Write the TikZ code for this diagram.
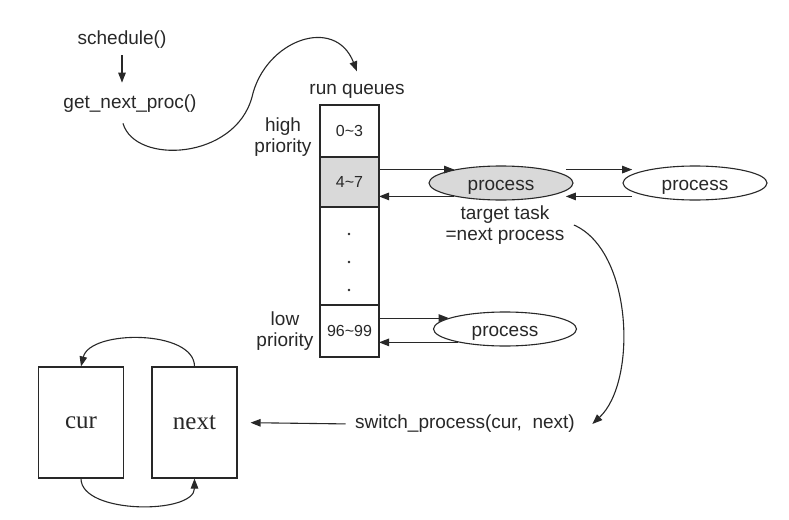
\documentclass[tikz,border=0pt]{standalone}
\usepackage{fontspec}
\setmainfont{Liberation Sans}
\newfontfamily\timesf{Liberation Serif}
\usetikzlibrary{arrows.meta,shapes.geometric,calc}
\definecolor{ink}{RGB}{40,40,40}
\definecolor{qgray}{RGB}{217,217,217}
\begin{document}
\begin{tikzpicture}[x=1pt,y=-1pt,
  every node/.style={text=ink, font=\fontsize{19}{21}\selectfont},
  line/.style={draw=ink, line width=1.1pt},
  arr/.style={line, -{Triangle[length=10pt,width=7.5pt]}},
  cell/.style={draw=ink, line width=1.1pt, minimum width=59pt, inner sep=0pt, outer sep=0pt, anchor=north, font=\fontsize{16}{18}\selectfont},
  proc/.style={ellipse, draw=ink, line width=1.1pt, minimum width=144pt, minimum height=34pt, inner sep=0pt, text height=17pt, text depth=3pt},
  frame/.style={draw=ink, line width=1.1pt, minimum width=85pt, minimum height=111pt, inner sep=0pt, font=\timesf\fontsize{25}{27}\selectfont}]
\useasboundingbox (0,0) rectangle (789,519);
\fill[white] (0,0) rectangle (789,519);

% top calls
\node (sched) at (122,40) {schedule()};
\node (getnext) at (130,104) {get\_next\_proc()};
\draw[arr, shorten <=3pt, shorten >=9pt] (sched.south) -- (sched.south |- getnext.north);

% run queues
\node (rq) at (357,91) {run queues};
\node[cell, minimum height=52pt] (c0) at (349.5,105) {0\textasciitilde3};
\node[cell, minimum height=50pt, fill=qgray] (c1) at (c0.south) {4\textasciitilde7};
\node[cell, minimum height=98pt] (cd) at (c1.south) {};
\node[cell, minimum height=52pt] (c2) at (cd.south) {96\textasciitilde99};
\foreach \yy in {234,262,290} \fill[ink] (349,\yy) circle (1.4);

\node[align=center] (hp) at (283,137) {high\\priority};
\node[align=center] (lp) at (285,331) {low\\priority};

\draw[arr] ([xshift=-7pt,yshift=-7pt]getnext.south) .. controls (135,165) and (235,160) .. (252,97)
  .. controls (265,40) and (335,15) .. ([yshift=9pt]rq.north);

% processes
\node[proc, fill=qgray] (e1) at (501,183) {process};
\node[proc] (e2) at (695,183) {process};
\node[proc, minimum width=143pt] (e3) at (505,329) {process};

\draw[arr] (c1.east |- e1.164) -- (e1.164);
\draw[arr] (e1.196) -- (c1.east |- e1.196);
\draw[arr, shorten <=18pt, shorten >=16pt] (e1.16) -- (e1.16 -| e2.164);
\draw[arr, shorten <=16pt, shorten >=18pt] (e2.196) -- (e2.196 -| e1.16);
\draw[arr] (c2.east |- e3.169) -- (e3.169);
\draw[arr] (e3.196) -- (c2.east |- e3.196);

\node[align=center] (tgt) at (505,225) {target task\\=next process};

% switch
\node (sw) at (465,424) {switch\_process(cur,\ \ next)};
\draw[arr] ([xshift=6pt]tgt.east) .. controls +(59,26) and +(45,-42) .. ([xshift=14pt]sw.east);

\node[frame] (cur) at (81,422.5) {cur};
\node[frame] (nxt) at (194.5,422.5) {next};
\draw[arr, shorten <=6pt, shorten >=13pt] (sw.west) -- (nxt.east);
\draw[arr] (nxt.north) .. controls +(0,-37) and +(9,-37) .. (cur.north);
\draw[arr] (cur.south) .. controls +(0,36) and +(0,36) .. (nxt.south);
\end{tikzpicture}
\end{document}
